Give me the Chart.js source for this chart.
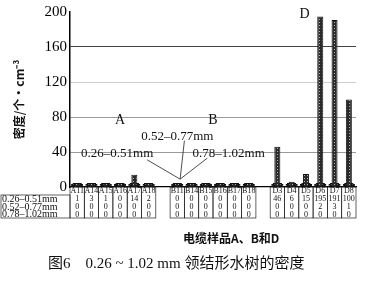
<!DOCTYPE html>
<html>
<head>
<meta charset="utf-8">
<script src="https://cdn.jsdelivr.net/npm/chart.js@4/dist/chart.umd.min.js"></script>
<style>
html, body { margin: 0; padding: 0; background: #fff; }
#wrap { position: relative; width: 368px; height: 282px; }
#xTitle { position: absolute; left: 183px; top: 229px; font: bold 12px "Noto Sans CJK SC"; color: #111; white-space: nowrap; }
#caption { position: absolute; left: 48px; top: 251px; font: 15px "Liberation Serif", "Noto Sans CJK SC"; color: #111; white-space: nowrap; }
</style>
</head>
<body>
<div id="wrap">
    <canvas id="chart" width="368" height="282"></canvas>
    <div id="xTitle">电缆样品A、B和D</div>
    <div id="caption">图6　0.26 ~ 1.02 mm 领结形水树的密度</div>
</div>
<script>
// samples, '' = gap between cable groups
const samples = ['A11', 'A14', 'A15', 'A16', 'A17', 'A18', '', 'B11', 'B14', 'B15', 'B16', 'B17', 'B18', '', 'D3', 'D4', 'D5', 'D6', 'D7', 'D8'];
const sizeClasses = ['0.26–0.51mm', '0.52–0.77mm', '0.78–1.02mm'];
const small = [1, 3, 1, 0, 14, 2, null, 0, 0, 0, 0, 0, 0, null, 46, 6, 15, 195, 191, 100];
const medium = [0, 0, 0, 0, 0, 0, null, 0, 0, 0, 0, 0, 0, null, 0, 0, 0, 2, 3, 1];
const large = [0, 0, 0, 0, 0, 0, null, 0, 0, 0, 0, 0, 0, null, 0, 0, 0, 0, 0, 0];
const yTicks = [0, 40, 80, 120, 160, 200];

const canvas = document.getElementById('chart');
function stipple(dark, light) {
    const c = document.createElement('canvas');
    c.width = 3;
    c.height = 3;
    const g = c.getContext('2d');
    g.fillStyle = dark;
    g.fillRect(0, 0, 3, 3);
    g.fillStyle = light;
    g.fillRect(1, 1, 1, 1);
    return canvas.getContext('2d').createPattern(c, 'repeat');
}

const tablePlugin = {
    id: 'sampleTable',
    afterDraw(chart) {
        const { ctx, scales: { x, y } } = chart;
        const w = x.width / samples.length;
        const rows = [187, 195, 203, 211, 218];
        const series = [small, medium, large];
        ctx.save();
        ctx.strokeStyle = '#222';
        ctx.lineWidth = 0.7;
        ctx.fillStyle = '#111';
        ctx.textAlign = 'center';
        ctx.textBaseline = 'middle';
        samples.forEach((s, i) => {
            if (!s) return;
            const cx = x.getPixelForValue(i);
            ctx.strokeRect(cx - w / 2, rows[0], w, rows[4] - rows[0]);
            ctx.font = '8px "Liberation Serif"';
            ctx.fillText(s, cx, (rows[0] + rows[1]) / 2);
            series.forEach((arr, r) => {
                ctx.fillText(String(arr[i]), cx, (rows[r + 1] + rows[r + 2]) / 2);
            });
        });
        // row labels
        ctx.strokeRect(1, rows[1], x.left - 1, rows[4] - rows[1]);
        ctx.textAlign = 'left';
        ctx.font = '10px "Liberation Serif"';
        sizeClasses.forEach((c, r) => {
            ctx.fillText(c, 2, (rows[r + 1] + rows[r + 2]) / 2);
        });

        // annotations
        ctx.font = '14px "Liberation Serif"';
        ctx.textAlign = 'center';
        ctx.fillText('A', x.getPixelForValue(3), y.getPixelForValue(76));
        ctx.fillText('B', x.getPixelForValue(9.5), y.getPixelForValue(76));
        ctx.fillText('D', x.getPixelForValue(15.9), y.getPixelForValue(197));
        ctx.font = '13px "Liberation Serif"';
        ctx.fillText(sizeClasses[0], x.getPixelForValue(2.8), y.getPixelForValue(38));
        ctx.fillText(sizeClasses[1], x.getPixelForValue(7), y.getPixelForValue(58));
        ctx.fillText(sizeClasses[2], x.getPixelForValue(10.6), y.getPixelForValue(38));
        const tx = x.getPixelForValue(7.2), ty = y.getPixelForValue(9);
        ctx.lineWidth = 0.8;
        ctx.beginPath();
        [[4.9, 31], [7.5, 53], [9.1, 33]].forEach(([i, v]) => {
            ctx.moveTo(x.getPixelForValue(i), y.getPixelForValue(v));
            ctx.lineTo(tx, ty);
        });
        ctx.stroke();
        ctx.restore();
    },
};

function gridColor(c) {
    const v = c.tick.value;
    if (v === 160) return '#444';
    if (v === 0 || v >= 180) return 'rgba(0,0,0,0)';
    if (v >= 100) return '#cfcfcf';
    return '#9a9a9a';
}

new Chart(canvas, {
    type: 'bar',
    data: {
        labels: samples,
        datasets: [
            {
                label: sizeClasses[0],
                data: small,
                backgroundColor: stipple('#2a2a2a', '#b0b0b0'),
                borderColor: '#111',
                borderWidth: 1,
                barPercentage: 0.42,
                minBarLength: 4,
            },
            {
                label: sizeClasses[1],
                data: medium,
                backgroundColor: stipple('#1a1a1a', '#777'),
                borderColor: '#111',
                borderWidth: 1,
                barPercentage: 0.65,
                minBarLength: 4,
            },
            {
                label: sizeClasses[2],
                data: large,
                backgroundColor: stipple('#111', '#555'),
                borderColor: '#111',
                borderWidth: 1,
                barPercentage: 0.85,
                minBarLength: 3,
            },
        ],
    },
    options: {
        responsive: false,
        animation: false,
        datasets: { bar: { grouped: false, categoryPercentage: 1 } },
        layout: { padding: { left: 0, right: 12, top: 6, bottom: 87 } },
        plugins: { legend: { display: false }, tooltip: { enabled: false } },
        scales: {
            x: {
                offset: true,
                grid: { display: false },
                border: { display: true, color: '#000', width: 1.2 },
                ticks: { display: false },
            },
            y: {
                min: 0,
                max: 200,
                afterFit: (s) => { s.width = 70; },
                afterBuildTicks: (s) => {
                    s.ticks = [];
                    for (let v = 0; v <= 200; v += 20) s.ticks.push({ value: v });
                },
                ticks: {
                    callback: (v) => (yTicks.includes(v) ? v : ''),
                    font: { family: 'Liberation Serif', size: 15 },
                    color: '#000',
                    padding: 3,
                },
                grid: { color: gridColor, drawTicks: false, lineWidth: 1 },
                border: { display: true, color: '#000', width: 1.5 },
                title: {
                    display: true,
                    text: '密度/个·cm⁻³',
                    font: { family: 'Noto Sans CJK SC', size: 12, weight: 'bold' },
                    color: '#111',
                    padding: { top: 12, bottom: 0 },
                },
            },
        },
    },
    plugins: [tablePlugin],
});
</script>
</body>
</html>
